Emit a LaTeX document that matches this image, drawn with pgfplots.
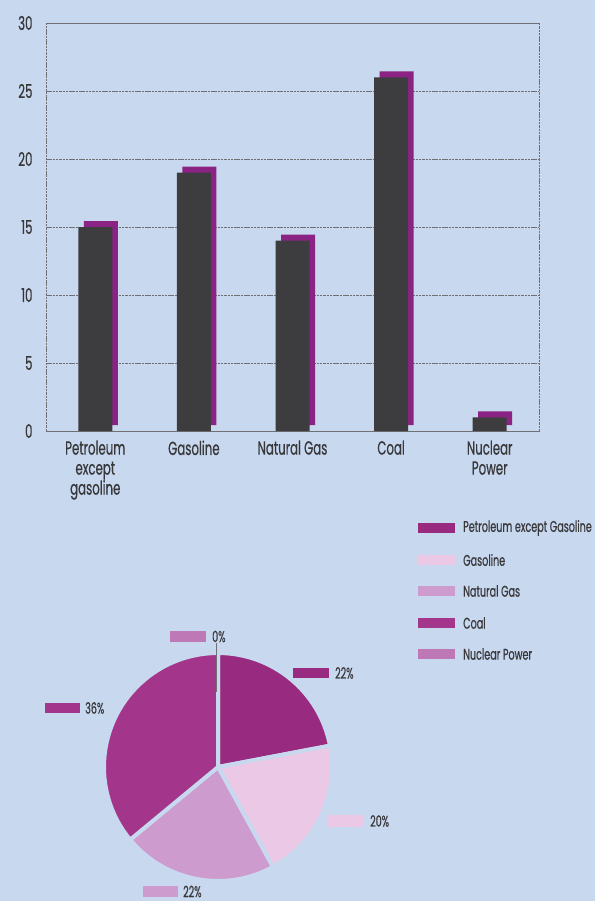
\documentclass[border=0pt]{standalone}
\usepackage{fontspec}
\setmainfont[FakeStretch=0.62, FakeBold=0.5]{Poppins}
\usepackage{pgfplots}
\usepackage{pgfplotstable}
\pgfplotsset{compat=1.18}
\definecolor{bg}{HTML}{C8D8EE}
\definecolor{txt}{HTML}{38383B}
\definecolor{gridc}{HTML}{707074}
\definecolor{bardark}{HTML}{3D3D40}
\definecolor{shadow}{HTML}{8B2384}
\definecolor{pA}{HTML}{982A7F}
\definecolor{pB}{HTML}{EAC8E6}
\definecolor{pC}{HTML}{CD9BCD}
\definecolor{pD}{HTML}{A3368B}
\definecolor{pE}{HTML}{BE78B5}

\pgfplotstableread{
x val
0 15
1 19
2 14
3 26
4 1
}\bardata

\pgfplotsset{barframe/.style={scale only axis, width=493pt, height=408pt,
  xmin=-0.5, xmax=4.5, ymin=0, ymax=30}}

\begin{document}
\begin{tikzpicture}[x=1pt,y=1pt]
\useasboundingbox (0,0) rectangle (595,-901);
\fill[bg] (0,0) rectangle (595,-901);

% frame, grid, labels
\begin{axis}[at={(46pt,-431pt)}, anchor=south west, barframe,
  ytick={0,5,...,30}, xtick={0,...,4},
  xticklabels={{Petroleum\\except\\gasoline},Gasoline,{Natural Gas},Coal,{Nuclear\\Power}},
  ymajorgrids, major tick length=0pt,
  /pgf/number format/assume math mode=true,
  tick label style={font=\fontsize{19}{20}\selectfont, text=txt},
  yticklabel style={xshift=-10pt},
  xticklabel style={align=center, yshift=-6pt},
  axis line style={draw=gridc, line width=1pt, dash pattern=on 2.5pt off 0.8pt},
  grid style={draw=gridc, line width=1pt, dash pattern=on 2.5pt off 0.8pt},
]
\addplot[draw=none] coordinates {(0,0)};
\end{axis}

% shadow bars
\begin{axis}[at={(51.5pt,-425pt)}, anchor=south west, barframe, hide axis]
\addplot[ybar, bar width=34pt, fill=shadow, draw=none] table[x=x,y=val]{\bardata};
\end{axis}

% dark bars
\begin{axis}[at={(46pt,-431pt)}, anchor=south west, barframe, hide axis]
\addplot[ybar, bar width=34pt, fill=bardark, draw=none] table[x=x,y=val]{\bardata};
\end{axis}

% pie
\begin{axis}[at={(218pt,-767pt)}, anchor=center, scale only axis,
  width=228pt, height=228pt, xmin=-1, xmax=1, ymin=-1, ymax=1, hide axis]
\filldraw[fill=pA, draw=bg, line width=4pt] (axis cs:0,0) -- ++(90:114pt)
  arc[start angle=90, end angle={90-3.6*22}, radius=114pt] -- cycle;
\filldraw[fill=pB, draw=bg, line width=4pt] (axis cs:0,0) -- ++({90-3.6*22}:114pt)
  arc[start angle={90-3.6*22}, end angle={90-3.6*42}, radius=114pt] -- cycle;
\filldraw[fill=pC, draw=bg, line width=4pt] (axis cs:0,0) -- ++({90-3.6*42}:114pt)
  arc[start angle={90-3.6*42}, end angle={90-3.6*64}, radius=114pt] -- cycle;
\filldraw[fill=pD, draw=bg, line width=4pt] (axis cs:0,0) -- ++({90-3.6*64}:114pt)
  arc[start angle={90-3.6*64}, end angle={90-3.6*100}, radius=114pt] -- cycle;
\end{axis}

% 0% leader
\draw[gridc, line width=0.8pt] (216,-643) -- (216,-692);

% pie labels
\tikzset{lbl/.style={anchor=west, inner sep=0pt, text=txt, font=\fontsize{15.5}{17}\selectfont}}
\fill[pE] (170,-631) rectangle (206,-642); \node[lbl] at (212,-636.5) {0\%};
\fill[pA] (293,-668) rectangle (329,-678); \node[lbl] at (335,-673) {22\%};
\fill[pB] (328,-815) rectangle (364,-827); \node[lbl] at (370,-821) {20\%};
\fill[pC] (143,-886) rectangle (178,-897); \node[lbl] at (183,-891.5) {22\%};
\fill[pD] (45,-703) rectangle (80,-713); \node[lbl] at (85,-708) {36\%};

% legend
\fill[pA] (418,-523) rectangle (455,-533); \node[lbl] at (463,-528) {Petroleum except Gasoline};
\fill[pB] (418,-555) rectangle (455,-565); \node[lbl] at (463,-560) {Gasoline};
\fill[pC] (418,-586) rectangle (455,-596); \node[lbl] at (463,-591) {Natural Gas};
\fill[pD] (418,-618) rectangle (455,-628); \node[lbl] at (463,-623) {Coal};
\fill[pE] (418,-649) rectangle (455,-659); \node[lbl] at (463,-654) {Nuclear Power};
\end{tikzpicture}
\end{document}
